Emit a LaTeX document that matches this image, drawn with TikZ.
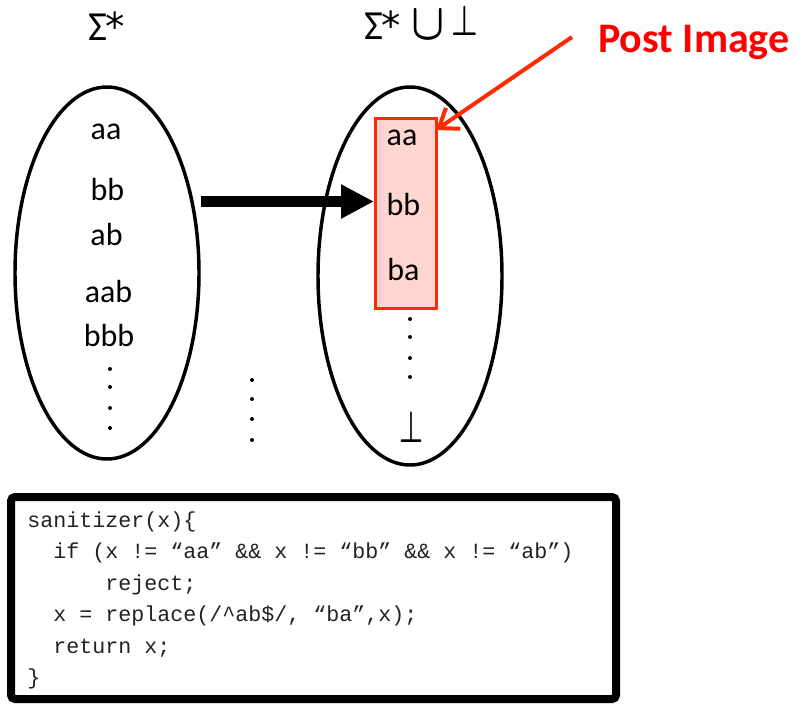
\documentclass[tikz,border=0pt]{standalone}
\usepackage{fontspec}
\usepackage{graphicx}
\setmainfont{Carlito}
\setmonofont{Liberation Mono}
\newfontfamily\symfont{DejaVu Sans}
\usetikzlibrary{shapes.geometric,arrows.meta}
\definecolor{imgred}{HTML}{FF2A00}
\definecolor{imgfill}{HTML}{FFD5CF}
\definecolor{labelred}{HTML}{FF0000}
\definecolor{codeink}{HTML}{222222}
\newcommand{\kleene}{{\symfont\fontsize{29pt}{30pt}\selectfont *}}
\newcommand{\unionsign}{\resizebox{25pt}{21.5pt}{\boldmath$\cup$}}
\newcommand{\botsign}[2]{\resizebox{#1}{#2}{\boldmath$\bot$}}
\tikzset{
  setring/.style={draw=black, line width=2.6pt, ellipse, inner sep=0pt},
  word/.style={anchor=base, inner sep=0pt, font=\fontsize{24pt}{28pt}\selectfont},
  title/.style={anchor=base west, inner sep=0pt, font=\fontsize{31pt}{34pt}\selectfont},
  code/.style={anchor=base west, inner sep=0pt, text=codeink, font=\fontsize{16.25pt}{19pt}\ttfamily},
  ellipsisdot/.style={fill=black, circle, inner sep=0pt, minimum size=3pt},
}
\begin{document}
\begin{tikzpicture}[x=0.75pt, y=-0.75pt]
\useasboundingbox (0,0) rectangle (803,704);

% set titles
\node[title] (domain) at (88,40) {Σ\kern-1pt\kleene};
\node[title] (range) at (364,39) {Σ\kern-1pt\kleene};
\node[title] (cup) at (411,39.5) {\unionsign};
\node[title] (bot) at (451,35.5) {\botsign{20pt}{22pt}};

% the two sets
\node[setring, minimum width=138pt, minimum height=279pt] (left) at (107,273) {};
\node[setring, minimum width=138pt, minimum height=283.5pt] (right) at (410,276) {};

% post image box
\node[draw=imgred, fill=imgfill, line width=2.25pt, inner sep=0pt,
      minimum width=45.75pt, minimum height=142.5pt] (img) at (406,213.5) {};

% members of the domain
\node[word] (la)   at (106,139) {aa};
\node[word] (lb)   at (107.5,200) {bb};
\node[word] (lab)  at (106.5,245) {ab};
\node[word] (laab) at (108.5,302) {aab};
\node[word] (lbbb) at (109,346) {bbb};
\foreach \y [count=\i] in {369,387,408,428} \node[ellipsisdot] (ld\i) at (110,\y) {};

% dots between the sets
\foreach \y [count=\i] in {380,399,419,440} \node[ellipsisdot] (md\i) at (252,\y) {};

% members of the range
\node[word] (ra)  at (402,145) {aa};
\node[word] (rb)  at (403.5,215) {bb};
\node[word] (rba) at (403.5,280) {ba};
\foreach \y [count=\i] in {319,337,358,377} \node[ellipsisdot] (rd\i) at (410,\y) {};
\node[word] (rbot) at (411,442) {\botsign{18pt}{23pt}};

% mapping arrow
\coordinate (src) at (201,201.5);
\draw[line width=8.25pt, -{Triangle[length=24.75pt, width=24pt]}] (src) -- (src -| img.west);

% post image label and pointer
\node[anchor=base west, inner sep=0pt, text=labelred,
      font=\fontsize{31.5pt}{36pt}\bfseries] (post) at (598,52) {Post Image};
\coordinate (ptail) at (572,37);
\coordinate (ptip) at (436,130);
\draw[imgred, line width=3pt, -{Straight Barb[length=13pt, width=19pt]}] (ptail) -- (ptip);

% sanitizer source
\draw[line width=6pt, rounded corners=3pt] (11,497) rectangle (616,699);
\node[code] (c1) at (27,527)    {sanitizer(x)\{};
\node[code] (c2) at (53,558.5)  {if (x != “aa” \&\& x != “bb” \&\& x != “ab”)};
\node[code] (c3) at (105,590)   {reject;};
\node[code] (c4) at (53,621.5)  {x = replace(/\textasciicircum ab\$/, “ba”,x);};
\node[code] (c5) at (53,653)    {return x;};
\node[code] (c6) at (27,684.5)  {\}};
\end{tikzpicture}
\end{document}
